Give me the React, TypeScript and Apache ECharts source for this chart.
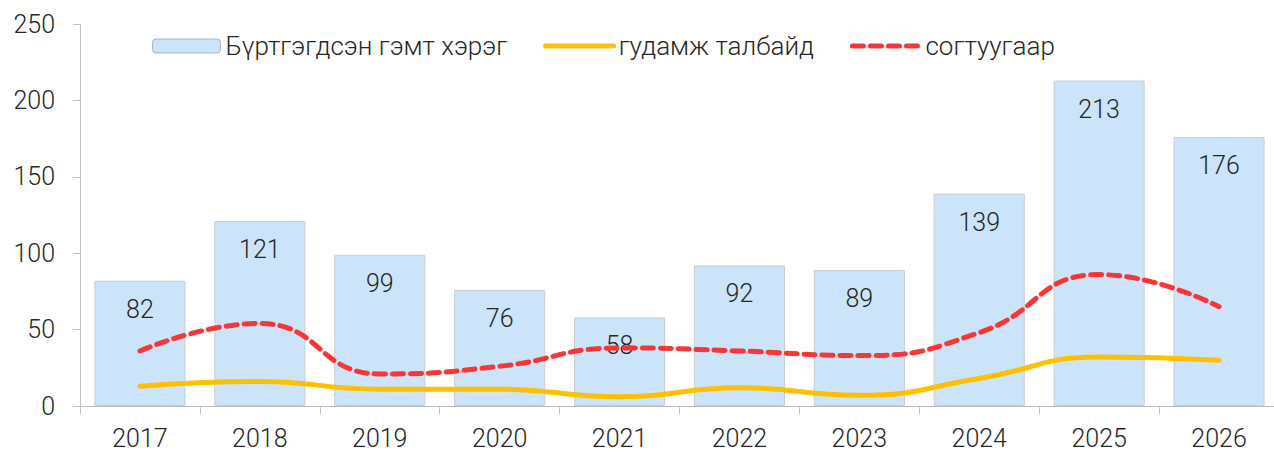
import React, { useEffect, useRef } from "react";
import * as echarts from "echarts";

const years = ["2017", "2018", "2019", "2020", "2021", "2022", "2023", "2024", "2025", "2026"];
const registered = [82, 121, 99, 76, 58, 92, 89, 139, 213, 176];
const street = [13, 16, 11, 11, 6, 12, 7, 18, 32, 30];
const drunk = [36, 54, 21, 26, 38, 36, 33, 48, 86, 65];
const seriesNames = ["Бүртгэгдсэн гэмт хэрэг", "гудамж талбайд", "согтуугаар"];

const FONT = "Roboto, 'Noto Sans', sans-serif";
const TXT = "#262626";
const YELLOW = "#ffc000";
const RED = "#f93535";

export default function App() {
  const ref = useRef<HTMLDivElement>(null);
  useEffect(() => {
    if (!ref.current) return;
    const chart = echarts.init(ref.current, null, { renderer: "svg" });
    chart.setOption({
      animation: false,
      textStyle: { fontFamily: FONT },
      legend: {
        top: 28,
        left: 147,
        itemWidth: 68,
        itemHeight: 14,
        itemGap: 36,
        textStyle: { fontSize: 26, fontWeight: 300, color: TXT, fontFamily: FONT },
        data: [
          { name: seriesNames[0], itemStyle: { borderColor: "#aab4bd", borderWidth: 1 } },
          {
            name: seriesNames[1],
            itemStyle: { opacity: 0 },
            lineStyle: { width: 5, color: YELLOW, cap: "round" },
          },
          {
            name: seriesNames[2],
            itemStyle: { opacity: 0 },
            lineStyle: { width: 5, color: RED, type: [11, 7], cap: "round" },
          },
        ],
      },
      grid: { left: 80, right: 5, top: 24, bottom: 46, containLabel: false },
      xAxis: {
        type: "category",
        data: years,
        axisLine: { lineStyle: { color: "#bfbfbf", width: 1 } },
        axisTick: { show: true, length: 8, lineStyle: { color: "#bfbfbf" } },
        axisLabel: { fontSize: 25, fontWeight: 300, color: TXT, margin: 20, fontFamily: FONT },
      },
      yAxis: {
        type: "value",
        min: 0,
        max: 250,
        interval: 50,
        axisLine: { show: true, lineStyle: { color: "#bfbfbf", width: 1 } },
        axisTick: { show: true, length: 7, lineStyle: { color: "#bfbfbf" } },
        splitLine: { show: false },
        axisLabel: { fontSize: 25, fontWeight: 300, color: TXT, margin: 25, fontFamily: FONT },
      },
      series: [
        {
          name: seriesNames[0],
          type: "bar",
          data: registered,
          barCategoryGap: "24%",
          itemStyle: { color: "#cce4f9", borderColor: "#c9cdd1", borderWidth: 1 },
          label: {
            show: true,
            position: "insideTop",
            distance: 16,
            fontSize: 25,
            fontWeight: 300,
            color: TXT,
            fontFamily: FONT,
          },
          z: 1,
        },
        {
          name: seriesNames[1],
          type: "line",
          data: street,
          smooth: 0.5,
          symbol: "none",
          lineStyle: { color: YELLOW, width: 5, cap: "round" },
          itemStyle: { color: YELLOW },
          z: 3,
        },
        {
          name: seriesNames[2],
          type: "line",
          data: drunk,
          smooth: 0.5,
          symbol: "none",
          lineStyle: { color: RED, width: 5, type: [11, 7], cap: "round" },
          itemStyle: { color: RED },
          z: 4,
        },
      ],
    });
    return () => chart.dispose();
  }, []);
  return (
    <div
      ref={ref}
      style={{ position: "fixed", left: 0, top: 0, width: 1284, height: 452, background: "#fff" }}
    />
  );
}
